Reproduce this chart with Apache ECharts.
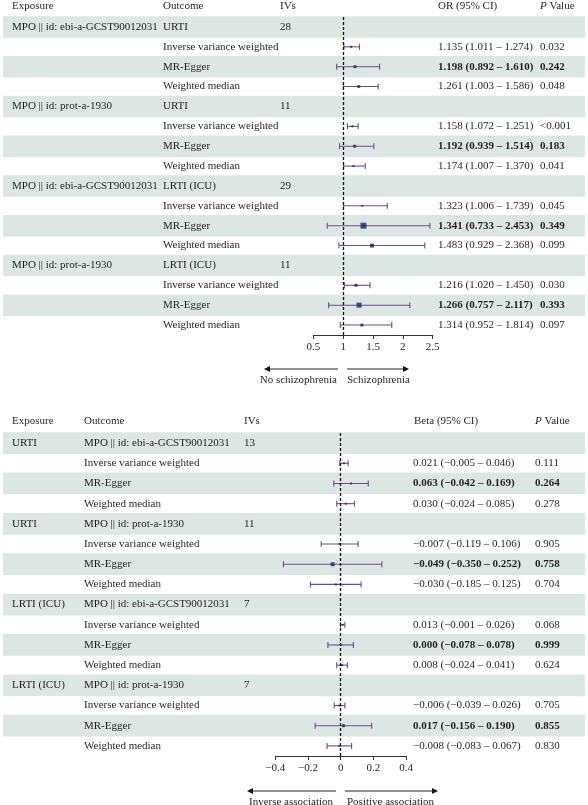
<!DOCTYPE html>
<html><head><meta charset="utf-8">
<script src="https://cdn.jsdelivr.net/npm/echarts@6/dist/echarts.min.js"></script>
<style>html,body{margin:0;padding:0;background:#fff}#c{width:588px;height:805px}</style>
</head><body><div id="c"></div>
<script>
const methods = ['Inverse variance weighted', 'MR-Egger', 'Weighted median'];

const topExposures = ['MPO || id: ebi-a-GCST90012031', 'MPO || id: prot-a-1930', 'MPO || id: ebi-a-GCST90012031', 'MPO || id: prot-a-1930'];
const topOutcomes = ['URTI', 'URTI', 'LRTI (ICU)', 'LRTI (ICU)'];
const topIVs = [28, 11, 29, 11];
const topEst  = [1.135, 1.198, 1.261, 1.158, 1.192, 1.174, 1.323, 1.341, 1.483, 1.216, 1.266, 1.314];
const topLow  = [1.011, 0.892, 1.003, 1.072, 0.939, 1.007, 1.006, 0.733, 0.929, 1.020, 0.757, 0.952];
const topHigh = [1.274, 1.610, 1.586, 1.251, 1.514, 1.370, 1.739, 2.453, 2.368, 1.450, 2.117, 1.814];
const topP = ['0.032', '0.242', '0.048', '<0.001', '0.183', '0.041', '0.045', '0.349', '0.099', '0.030', '0.393', '0.097'];
const topTicks = [0.5, 1, 1.5, 2, 2.5];

const botExposures = ['URTI', 'URTI', 'LRTI (ICU)', 'LRTI (ICU)'];
const botOutcomes = ['MPO || id: ebi-a-GCST90012031', 'MPO || id: prot-a-1930', 'MPO || id: ebi-a-GCST90012031', 'MPO || id: prot-a-1930'];
const botIVs = [13, 11, 7, 7];
const botEst  = [0.021, 0.063, 0.030, -0.007, -0.049, -0.030, 0.013, 0.000, 0.008, -0.006, 0.017, -0.008];
const botLow  = [-0.005, -0.042, -0.024, -0.119, -0.350, -0.185, -0.001, -0.078, -0.024, -0.039, -0.156, -0.083];
const botHigh = [0.046, 0.169, 0.085, 0.106, 0.252, 0.125, 0.026, 0.078, 0.041, 0.026, 0.190, 0.067];
const botP = ['0.111', '0.264', '0.278', '0.905', '0.758', '0.704', '0.068', '0.999', '0.624', '0.705', '0.855', '0.830'];
const botTicks = [-0.4, -0.2, 0, 0.2, 0.4];

// style-only arrays (marker square sizes in px)
const topMarkerSize = [2, 3, 3, 2, 3, 2, 2, 6, 4, 3, 5, 3];
const botMarkerSize = [2, 2, 2, 2, 4, 2, 2, 2, 2, 2, 3, 2];

const FONT = '"Liberation Serif", "DejaVu Serif", serif';
const TXT = '#231f20';
const SHADE = '#dce7e3';
const CI_COLOR = '#6b4a8e';
const MK_COLOR = '#1c2566';

function fmt(v) { return (v < 0 ? '\u2212' : '') + Math.abs(v).toFixed(3); }

function buildRows(exps, outs, ivs, est, lo, hi, p) {
  const rows = [];
  for (let g = 0; g < exps.length; g++) {
    rows.push({ head: true, c1: exps[g], c2: outs[g], c3: String(ivs[g]) });
    for (let m = 0; m < 3; m++) {
      const k = g * 3 + m;
      rows.push({ head: false, c2: methods[m], k: k, est: est[k], lo: lo[k], hi: hi[k],
        ci: fmt(est[k]) + ' (' + fmt(lo[k]) + ' \u2013 ' + fmt(hi[k]) + ')', p: p[k], bold: m === 1 });
    }
  }
  return rows;
}

const panels = [
  { rows: buildRows(topExposures, topOutcomes, topIVs, topEst, topLow, topHigh, topP),
    ticks: topTicks, ref: 1, sizes: topMarkerSize,
    grid: { left: 313.3, width: 119.4, top: 17, height: 318 },
    cols: { c1: 12, c2: 163, c3: 280, ci: 438, p: 540 } },
  { rows: buildRows(botExposures, botOutcomes, botIVs, botEst, botLow, botHigh, botP),
    ticks: botTicks, ref: 0, sizes: botMarkerSize,
    grid: { left: 275.3, width: 130.7, top: 433, height: 323 },
    cols: { c1: 12, c2: 84, c3: 244, ci: 413, p: 535 } }
];

function txt(x, y, s, bold, align) {
  return { type: 'text', style: { x: x, y: y, text: s, fill: TXT, fontFamily: FONT, fontSize: 11,
    fontWeight: bold ? 'bold' : 'normal', align: align || 'left', verticalAlign: 'middle' } };
}

const grids = [], xAxes = [], yAxes = [], series = [];
panels.forEach(function (pn, i) {
  const xmin = pn.ticks[0], xmax = pn.ticks[pn.ticks.length - 1];
  grids.push(Object.assign({ containLabel: false }, pn.grid));
  xAxes.push({
    type: 'value', gridIndex: i, min: xmin, max: xmax, interval: pn.ticks[1] - pn.ticks[0],
    axisLine: { show: true, lineStyle: { color: '#333', width: 1 } },
    axisTick: { show: true, length: 4, lineStyle: { color: '#333' } },
    splitLine: { show: false },
    axisLabel: { color: TXT, fontFamily: FONT, fontSize: 11, margin: 7,
      formatter: function (v) { return String(Math.round(v * 10) / 10).replace('-', '\u2212'); } }
  });
  yAxes.push({ type: 'category', gridIndex: i, inverse: true, show: false,
    data: pn.rows.map(function (r, j) { return String(j); }) });

  // shaded bands
  series.push({
    type: 'custom', xAxisIndex: i, yAxisIndex: i, z: 1, silent: true, clip: false,
    data: pn.rows.map(function (r, j) { return [xmin, j]; }).filter(function (d) { return d[1] % 2 === 0; }),
    encode: { x: 0, y: 1 },
    renderItem: function (params, api) {
      const y = api.coord([api.value(0), api.value(1)])[1];
      const h = api.size([0, 1])[1] * 1.08;
      return { type: 'rect', shape: { x: 3, y: y - h / 2, width: 582, height: h }, style: { fill: SHADE } };
    }
  });
  // texts
  series.push({
    type: 'custom', xAxisIndex: i, yAxisIndex: i, z: 6, silent: true, clip: false,
    data: pn.rows.map(function (r, j) { return [xmin, j]; }),
    encode: { x: 0, y: 1 },
    renderItem: function (params, api) {
      const r = pn.rows[api.value(1)];
      const y = api.coord([api.value(0), api.value(1)])[1];
      const c = pn.cols, ch = [];
      if (r.head) {
        ch.push(txt(c.c1, y, r.c1), txt(c.c2, y, r.c2), txt(c.c3, y, r.c3));
      } else {
        ch.push(txt(c.c2, y, r.c2), txt(c.ci, y, r.ci, r.bold), txt(c.p, y, r.p, r.bold));
      }
      return { type: 'group', children: ch };
    }
  });
  // CI lines with caps
  const estRows = [];
  pn.rows.forEach(function (r, j) { if (!r.head) estRows.push([r.lo, r.hi, j]); });
  series.push({
    type: 'custom', xAxisIndex: i, yAxisIndex: i, z: 4, silent: true,
    data: estRows, encode: { x: [0, 1], y: 2 },
    renderItem: function (params, api) {
      const a = api.coord([api.value(0), api.value(2)]);
      const b = api.coord([api.value(1), api.value(2)]);
      const st = { stroke: CI_COLOR, lineWidth: 1.1 };
      return { type: 'group', children: [
        { type: 'line', shape: { x1: a[0], y1: a[1], x2: b[0], y2: b[1] }, style: st },
        { type: 'line', shape: { x1: a[0], y1: a[1] - 3, x2: a[0], y2: a[1] + 3 }, style: st },
        { type: 'line', shape: { x1: b[0], y1: b[1] - 3, x2: b[0], y2: b[1] + 3 }, style: st }
      ] };
    }
  });
  // point estimates + reference line
  const pts = [];
  pn.rows.forEach(function (r, j) { if (!r.head) pts.push([r.est, j]); });
  series.push({
    type: 'scatter', xAxisIndex: i, yAxisIndex: i, z: 5, silent: true,
    data: pts, symbol: 'rect',
    symbolSize: function (v, p) { return pn.sizes[p.dataIndex]; },
    itemStyle: { color: MK_COLOR },
    markLine: { silent: true, symbol: 'none', label: { show: false },
      lineStyle: { type: [3, 2], color: '#111', width: 1.3 },
      data: [{ xAxis: pn.ref }] }
  });
});

function head(x, y, s) {
  return { type: 'text', style: { x: x, y: y, text: s, fill: TXT, font: '11px ' + FONT, verticalAlign: 'middle' } };
}
function pval(x, y) {
  return { type: 'text', style: { x: x, y: y, verticalAlign: 'middle', text: '{i|P} Value',
    fill: TXT, fontFamily: FONT, fontSize: 11,
    rich: { i: { fontStyle: 'italic', fontFamily: FONT, fontSize: 11, fill: TXT } } } };
}
function arrow(x1, x2, y) {
  const dir = x2 > x1 ? 1 : -1;
  return [
    { type: 'line', shape: { x1: x1, y1: y, x2: x2 - dir * 5, y2: y }, style: { stroke: '#222', lineWidth: 1 } },
    { type: 'polygon', shape: { points: [[x2, y], [x2 - dir * 6, y - 3], [x2 - dir * 6, y + 3]] }, style: { fill: '#111' } }
  ];
}
function label(x, y, s, align) {
  return { type: 'text', style: { x: x, y: y, text: s, fill: TXT, font: '11px ' + FONT, align: align, verticalAlign: 'middle' } };
}

const graphics = [
  head(12, 6, 'Exposure'), head(163, 6, 'Outcome'), head(280, 6, 'IVs'), head(438, 6, 'OR (95% CI)'), pval(540, 6),
  head(12, 421, 'Exposure'), head(84, 421, 'Outcome'), head(244, 421, 'IVs'), head(414, 421, 'Beta (95% CI)'), pval(535, 421)
].concat(arrow(338, 264, 369), arrow(347, 409, 369), arrow(336, 247, 791), arrow(345, 438, 791), [
  label(337, 380, 'No schizophrenia', 'right'), label(347, 380, 'Schizophrenia', 'left'),
  label(333, 802, 'Inverse association', 'right'), label(347, 802, 'Positive association', 'left')
]);

const chart = echarts.init(document.getElementById('c'), null, { renderer: 'canvas' });
chart.setOption({
  animation: false,
  backgroundColor: '#fff',
  grid: grids, xAxis: xAxes, yAxis: yAxes, series: series,
  graphic: { elements: graphics }
});
</script>
</body></html>
